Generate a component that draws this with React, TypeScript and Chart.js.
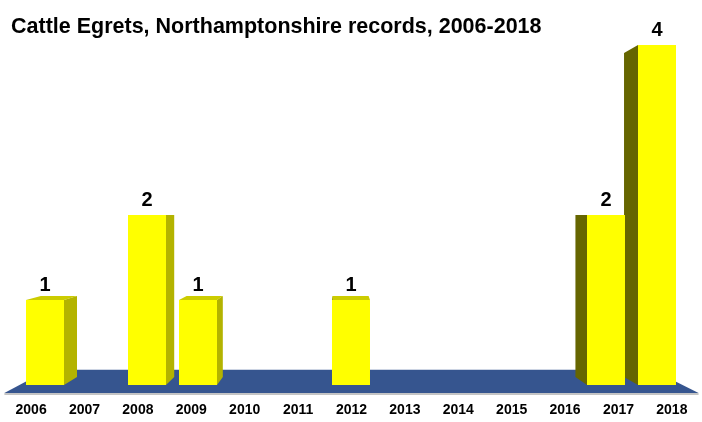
import React, { useEffect, useRef } from "react";
import { Chart, registerables } from "chart.js";

Chart.register(...registerables);

const TITLE = "Cattle Egrets, Northamptonshire records, 2006-2018";
const years = ["2006", "2007", "2008", "2009", "2010", "2011", "2012", "2013", "2014", "2015", "2016", "2017", "2018"];
const records = [1, 0, 2, 1, 0, 0, 1, 0, 0, 0, 0, 2, 4];
const yMin = 0;
const yMax = 4;

const FONT = "'Liberation Sans', Arial, Helvetica, sans-serif";

const threeD = {
  id: "threeD",
  beforeDatasetsDraw(chart: any) {
    const ctx = chart.ctx;
    const xs = chart.scales.x;
    const ys = chart.scales.y;
    const vx = xs.getPixelForValue(5.8);
    const vy = ys.getPixelForValue(2);
    const proj = (x: number, y: number, t: number) => [x + t * (vx - x), y + t * (vy - y)];
    const base = ys.getPixelForValue(0);
    const left = chart.chartArea.left;
    const right = chart.chartArea.right;
    const tf = -0.047;
    const tb = 0.089;
    const a = proj(left, base, tf);
    const b = proj(right, base, tf);
    const c = proj(right, base, tb);
    const d = proj(left, base, tb);
    ctx.save();
    // shadow line
    ctx.strokeStyle = "#c4c4c4";
    ctx.lineWidth = 2;
    ctx.beginPath();
    ctx.moveTo(a[0], a[1] + 1);
    ctx.lineTo(b[0], b[1] + 1);
    ctx.stroke();
    ctx.fillStyle = "#36558f";
    ctx.beginPath();
    ctx.moveTo(a[0], a[1]);
    ctx.lineTo(b[0], b[1]);
    ctx.lineTo(c[0], c[1]);
    ctx.lineTo(d[0], d[1]);
    ctx.closePath();
    ctx.fill();

    const depth = 0.047;
    const meta = chart.getDatasetMeta(0);
    meta.data.forEach((el: any, i: number) => {
      if (!records[i]) return;
      const p = el.getProps(["x", "y", "base", "width"], true);
      const L = p.x - p.width / 2;
      const R = p.x + p.width / 2;
      const T = p.y;
      const B = p.base;
      const poly = (pts: number[][], color: string) => {
        ctx.fillStyle = color;
        ctx.beginPath();
        ctx.moveTo(pts[0][0], pts[0][1]);
        for (let k = 1; k < pts.length; k++) ctx.lineTo(pts[k][0], pts[k][1]);
        ctx.closePath();
        ctx.fill();
      };
      if (T > vy) {
        poly([[L, T], [R, T], proj(R, T, depth), proj(L, T, depth)], "#cccc00");
      }
      if (p.x < vx - 2) {
        poly([[R, T], proj(R, T, depth), proj(R, B, depth), [R, B]], "#b3b300");
      } else if (p.x > vx + 2) {
        poly([[L, T], proj(L, T, depth), proj(L, B, depth), [L, B]], "#666600");
      }
    });
    ctx.restore();
  },
  afterDraw(chart: any) {
    const ctx = chart.ctx;
    const xs = chart.scales.x;
    const ys = chart.scales.y;
    const vx = xs.getPixelForValue(5.8);
    const base = ys.getPixelForValue(0);
    ctx.save();
    ctx.fillStyle = "#000000";
    // title
    ctx.font = `bold 21.5px ${FONT}`;
    ctx.textAlign = "left";
    ctx.textBaseline = "alphabetic";
    ctx.fillText(TITLE, 11, 32.5);
    // value labels
    ctx.font = `bold 20px ${FONT}`;
    ctx.textAlign = "center";
    ctx.textBaseline = "middle";
    const meta = chart.getDatasetMeta(0);
    meta.data.forEach((el: any, i: number) => {
      if (!records[i]) return;
      ctx.fillText(String(records[i]), el.x, el.y - 15);
    });
    // category labels projected to the floor's front edge
    ctx.font = `bold 14px ${FONT}`;
    const tf = -0.047;
    years.forEach((lab, i) => {
      const x = xs.getPixelForValue(i);
      const px = x + tf * (vx - x);
      ctx.fillText(lab, px, base + 25);
    });
    ctx.restore();
  },
};

export default function App() {
  const ref = useRef<HTMLCanvasElement>(null);
  useEffect(() => {
    document.body.style.margin = "0";
    const chart = new Chart(ref.current!, {
      type: "bar",
      data: {
        labels: years,
        datasets: [
          {
            data: records,
            backgroundColor: "#ffff00",
            borderWidth: 0,
            categoryPercentage: 1,
            barPercentage: 0.745,
          },
        ],
      },
      options: {
        animation: false,
        responsive: false,
        devicePixelRatio: 1,
        layout: { padding: { left: 19.5, right: 19.5, top: 45, bottom: 37 } },
        plugins: { legend: { display: false }, title: { display: false }, tooltip: { enabled: false } },
        scales: {
          x: { display: false, grid: { display: false } },
          y: { display: false, min: yMin, max: yMax, grid: { display: false } },
        },
      },
      plugins: [threeD],
    });
    return () => chart.destroy();
  }, []);
  return <canvas ref={ref} width={702} height={422} style={{ display: "block" }} />;
}
